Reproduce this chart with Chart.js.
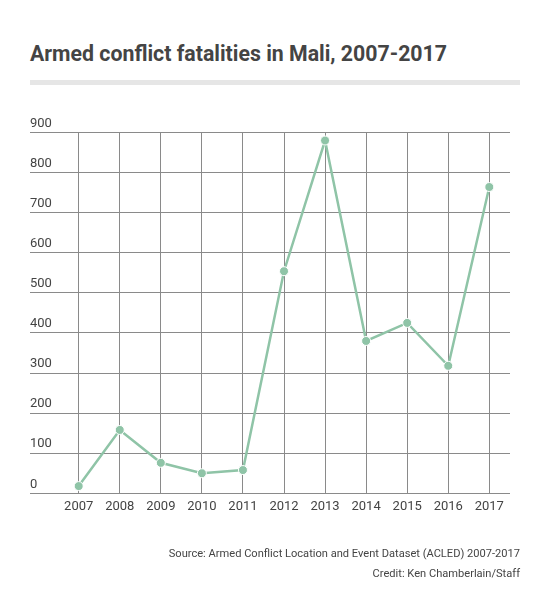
<!DOCTYPE html>
<html>
<head>
<meta charset="utf-8">
<script src="https://cdn.jsdelivr.net/npm/chart.js@4"></script>
<style>
    html, body { margin: 0; padding: 0; background: #fff; }
    body { width: 550px; height: 614px; position: relative; overflow: hidden; font-family: Roboto, sans-serif; }
    #title { position: absolute; left: 30px; top: 41px; font-size: 21.3px; font-weight: bold; color: #444; white-space: nowrap; }
    #rule { position: absolute; left: 30px; top: 80px; width: 490px; height: 5px; background: #e6e6e6; }
    #chartBox { position: absolute; left: 0; top: 0; width: 550px; height: 614px; }
    .note { position: absolute; right: 30px; font-size: 11.1px; color: #444; white-space: nowrap; }
    #source { top: 547px; }
    #credit { top: 567px; }
</style>
</head>
<body>
<div id="title">Armed conflict fatalities in Mali, 2007-2017</div>
<div id="rule"></div>
<div id="chartBox"><canvas id="maliChart"></canvas></div>
<div class="note" id="source">Source: Armed Conflict Location and Event Dataset (ACLED) 2007-2017</div>
<div class="note" id="credit">Credit: Ken Chamberlain/Staff</div>

<script>
// Values
const years = [2007, 2008, 2009, 2010, 2011, 2012, 2013, 2014, 2015, 2016, 2017];
const fatalities = [18, 158, 76, 50, 58, 554, 880, 380, 425, 318, 764];
const yTicks = [0, 100, 200, 300, 400, 500, 600, 700, 800, 900];

document.addEventListener('DOMContentLoaded', function () {
    const canvas = document.getElementById('maliChart');
    if (!canvas) return;

    const green = '#8fc4a7';
    const gridColor = '#8a8a8a';
    const tickFont = { family: 'Roboto', size: 13 };

    new Chart(canvas.getContext('2d'), {
        type: 'line',
        data: {
            datasets: [{
                label: 'Fatalities',
                data: years.map((y, i) => ({ x: y, y: fatalities[i] })),
                borderColor: green,
                borderWidth: 2.5,
                backgroundColor: green,
                pointRadius: 4.5,
                pointBorderColor: '#fff',
                pointBorderWidth: 1,
                pointBackgroundColor: green,
                tension: 0
            }]
        },
        options: {
            responsive: true,
            maintainAspectRatio: false,
            animation: false,
            layout: {
                padding: { left: 30, right: 40, top: 132.5, bottom: 90.7 }
            },
            plugins: {
                legend: { display: false },
                tooltip: { enabled: false }
            },
            scales: {
                x: {
                    type: 'linear',
                    min: 2005.814,
                    max: 2017.504,
                    afterBuildTicks: function (axis) {
                        axis.ticks = years.map(v => ({ value: v }));
                    },
                    afterFit: function (axis) {
                        axis.height = 30;
                    },
                    border: { display: false },
                    grid: { color: gridColor, lineWidth: 1, drawTicks: false },
                    ticks: {
                        color: '#444',
                        font: tickFont,
                        padding: 6,
                        maxRotation: 0,
                        autoSkip: false,
                        callback: function (value) {
                            return String(value);
                        }
                    }
                },
                y: {
                    min: 0,
                    max: 900,
                    afterBuildTicks: function (axis) {
                        axis.ticks = yTicks.map(v => ({ value: v }));
                    },
                    afterFit: function (axis) {
                        axis.width = 0;
                    },
                    border: { display: false },
                    grid: { color: gridColor, lineWidth: 1, drawTicks: false },
                    ticks: {
                        mirror: true,
                        padding: 0,
                        labelOffset: -9,
                        color: '#444',
                        font: tickFont
                    }
                }
            }
        }
    });
});
</script>
</body>
</html>
